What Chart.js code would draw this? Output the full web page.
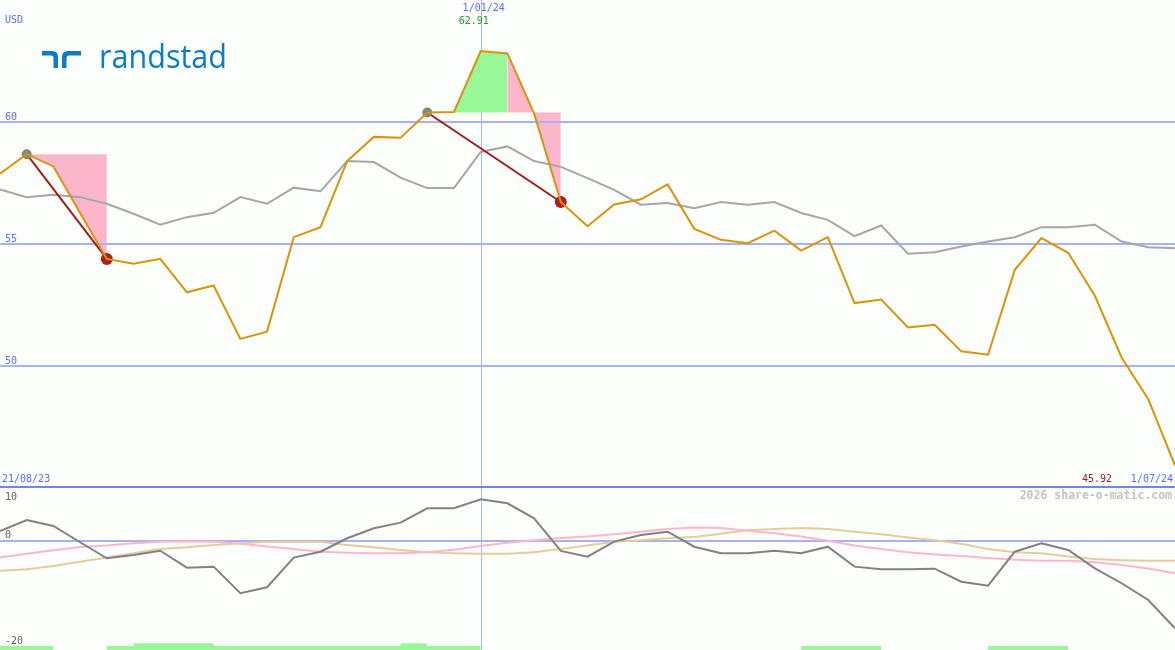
<!DOCTYPE html>
<html><head><meta charset="utf-8">
<script src="https://cdn.jsdelivr.net/npm/chart.js@4/dist/chart.umd.min.js"></script>
<style>
html,body{margin:0;padding:0;background:#fcfefc;}
#wrap{position:relative;width:1175px;height:650px;overflow:hidden;background:#fcfefc;}
canvas{position:absolute;left:0;}
#c1{top:0;} #c2{top:488px;}
</style></head><body>
<div id="wrap"><canvas id="c1" width="1175" height="488"></canvas><canvas id="c2" width="1175" height="162"></canvas></div>
<script>
// ---- data ----
const weeks = ['28/08/23','4/09/23','11/09/23','18/09/23','25/09/23','2/10/23','9/10/23','16/10/23','23/10/23','30/10/23',
 '6/11/23','13/11/23','20/11/23','27/11/23','4/12/23','11/12/23','18/12/23','25/12/23','1/01/24','8/01/24',
 '15/01/24','22/01/24','29/01/24','5/02/24','12/02/24','19/02/24','26/02/24','4/03/24','11/03/24','18/03/24',
 '25/03/24','1/04/24','8/04/24','15/04/24','22/04/24','29/04/24','6/05/24','13/05/24','20/05/24','27/05/24',
 '3/06/24','10/06/24','17/06/24','24/06/24','1/07/24'];
const price = [57.88,58.68,58.18,56.27,54.39,54.19,54.39,53.02,53.30,51.11,
 51.41,55.28,55.69,58.40,59.39,59.35,60.39,60.41,62.91,62.81,
 60.35,56.72,55.73,56.62,56.83,57.44,55.62,55.17,55.03,55.55,
 54.73,55.28,52.58,52.72,51.58,51.69,50.60,50.46,53.94,55.24,
 54.64,52.88,50.35,48.64,45.92];
const average = [57.24,56.92,57.02,56.92,56.65,56.24,55.79,56.10,56.28,56.92,
 56.65,57.31,57.16,58.40,58.36,57.72,57.29,57.29,58.77,59.00,
 58.40,58.16,57.70,57.22,56.61,56.68,56.47,56.72,56.61,56.72,
 56.27,55.99,55.32,55.76,54.60,54.66,54.90,55.10,55.28,55.69,
 55.69,55.79,55.10,54.87,54.83];
const momentum = [1.84,3.93,2.79,-0.3,-3.34,-2.71,-1.90,-5.12,-4.93,-9.98,
 -8.84,-3.22,-2.09,0.46,2.35,3.42,6.15,6.15,7.86,7.10,
 4.25,-1.95,-3.04,-0.18,1.08,1.71,-1.14,-2.39,-2.39,-1.90,
 -2.39,-1.14,-4.93,-5.43,-5.43,-5.31,-7.78,-8.54,-2.09,-0.49,
 -1.76,-5.24,-8.08,-11.25,-16.62];
const oscPink = [-3.2,-2.5,-1.8,-1.2,-0.9,-0.5,-0.2,-0.1,-0.2,-0.6,
 -1.1,-1.6,-2.1,-2.3,-2.4,-2.4,-2.2,-1.7,-1.0,-0.4,
 0.1,0.5,0.8,1.2,1.7,2.2,2.5,2.4,1.9,1.4,
 0.8,0.0,-0.9,-1.6,-2.2,-2.6,-2.9,-3.3,-3.6,-3.8,
 -3.8,-4.1,-4.6,-5.3,-6.2];
const oscTan = [-5.7,-5.4,-4.8,-4.0,-3.2,-2.4,-1.6,-1.25,-0.8,-0.5,
 -0.2,-0.2,-0.2,-0.8,-1.25,-1.75,-2.2,-2.4,-2.5,-2.5,
 -2.2,-1.6,-0.9,-0.2,0.1,0.45,0.7,1.3,2.0,2.2,
 2.4,2.2,1.7,1.2,0.6,0.1,-0.6,-1.6,-2.2,-2.4,
 -3.0,-3.5,-3.7,-3.8,-3.8];
const signalShort = [[0,2],[4,18],[30,33],[37,40]];
const signalTall = [[5,8],[15,16]];
const signalLevels = [-20, -19.45];
const swings = [[1,4],[16,21]];          // trend line start / end indices
const fallZones = [[1,4,1],[19,21,16]];  // from, to, base index
const riseZones = [[16,19,16]];
const priceTicks = [60,55,50];
const oscTicks = [10,0,-20];
const dateLabels = ['21/08/23','1/01/24','1/07/24'];
const markIndex = 18;
const currency = 'USD';

// ---- styling ----
const C = {
  label:'#5b6cf2', grid:'#a6b2f2', vline:'#aab6f0', sep:'#7484ea',
  price:'#d8940a', avg:'#a6a6a6', trend:'#a01c1c', dotGray:'#858585', dotRed:'#a82020',
  pink:'#fbb6cc', green:'#98f898', osc:'#828282', oscPink:'#ffb6cc', oscTan:'#e4cc9c',
  water:'#c4c4c4', valGreen:'#22a022', valRed:'#a01c1c', oscLabel:'#606060', logo:'#0d7cc6'
};
const MONO = "10px 'DejaVu Sans Mono'";

function zone(from,to,val){ const a = weeks.map(()=>null); for(let i=from;i<=to;i++) a[i]=val; return a; }
function ranges(list,val){ const a = weeks.map(()=>null); list.forEach(([s,e])=>{for(let i=s;i<=e;i++) a[i]=val;}); return a; }

const topSets = [
  {data: average, borderColor:C.avg, borderWidth:2, pointRadius:0, fill:false, order:3, gridHere:true},
  {data: price, borderColor:C.price, borderWidth:2, pointRadius:0, fill:false, order:1}
];
swings.forEach(([s,e])=>{
  const d = weeks.map(()=>null); d[s]=price[s]; d[e]=price[e];
  topSets.push({data:d, borderColor:C.trend, borderWidth:2, spanGaps:true, fill:false, order:2,
    pointRadius: weeks.map((_,i)=> i===s?5:(i===e?6:0)),
    pointBackgroundColor: weeks.map((_,i)=> i===s?C.dotGray:C.dotRed),
    pointBorderWidth:0});
});
fallZones.forEach(([f,t,b])=>topSets.push({data:zone(f,t,price[b]), borderColor:'transparent', borderWidth:0, pointRadius:0,
  fill:{target:1}, backgroundColor:C.pink, order:5}));
riseZones.forEach(([f,t,b])=>topSets.push({data:zone(f,t,price[b]), borderColor:'transparent', borderWidth:0, pointRadius:0,
  fill:{target:1}, backgroundColor:C.green, order:5}));

function txt(ctx, s, x, y, color, align, font){
  ctx.font = font || MONO; ctx.fillStyle = color; ctx.textAlign = align || 'left'; ctx.textBaseline = 'middle';
  ctx.fillText(s, x, y);
}

const topDeco = {
  id:'topDeco',
  beforeDatasetsDraw(chart){
    const {ctx, scales:{x}} = chart;
    ctx.save(); ctx.fillStyle = C.vline;
    ctx.fillRect(Math.round(x.getPixelForValue(markIndex)), 0, 1, chart.height);
    ctx.restore();
  },
  beforeDatasetDraw(chart, args){
    if(!chart.data.datasets[args.index].gridHere) return;
    const {ctx, scales:{y}} = chart;
    ctx.save(); ctx.fillStyle = C.grid;
    priceTicks.forEach(v=>{ const py = Math.round(y.getPixelForValue(v)); ctx.fillRect(0, py-1, chart.width, 2); });
    ctx.restore();
  },
  afterDraw(chart){
    const {ctx, scales:{x,y}} = chart;
    ctx.save();
    // separator
    ctx.fillStyle = C.sep;
    ctx.fillRect(0, Math.round(y.getPixelForValue(45))-2, chart.width, 2);
    txt(ctx, currency, 5, 20, C.label);
    priceTicks.forEach(v=> txt(ctx, String(v), 5, y.getPixelForValue(v)-5, C.label));
    const vx = x.getPixelForValue(markIndex);
    txt(ctx, dateLabels[1], vx+3, 8, C.label, 'center');
    const maxV = Math.max(...price);
    txt(ctx, maxV.toFixed(2), vx-7, 21, C.valGreen, 'center');
    const by = y.getPixelForValue(45) - 9;
    txt(ctx, dateLabels[0], 2, by, C.label);
    txt(ctx, dateLabels[2], 1173, by, C.label, 'right');
    txt(ctx, price[price.length-1].toFixed(2), 1112, by, C.valRed, 'right');
    // logo
    ctx.fillStyle = C.logo;
    ctx.beginPath();
    ctx.moveTo(42,51); ctx.lineTo(52,51); ctx.quadraticCurveTo(58,51,58,57); ctx.lineTo(58,68); ctx.lineTo(53.5,68);
    ctx.lineTo(53.5,58); ctx.quadraticCurveTo(53.5,55.5,51,55.5); ctx.lineTo(42,55.5); ctx.closePath(); ctx.fill();
    ctx.beginPath();
    ctx.moveTo(81,51); ctx.lineTo(68,51); ctx.quadraticCurveTo(62,51,62,57); ctx.lineTo(62,68); ctx.lineTo(66.5,68);
    ctx.lineTo(66.5,58); ctx.quadraticCurveTo(66.5,55.5,69,55.5); ctx.lineTo(81,55.5); ctx.closePath(); ctx.fill();
    ctx.font = "33px 'Open Sans'"; ctx.textAlign='left'; ctx.textBaseline='alphabetic';
    const w = ctx.measureText('randstad').width;
    ctx.translate(99, 68); ctx.scale(128/w, 1);
    ctx.fillText('randstad', 0, 0);
    ctx.restore();
  }
};

new Chart(document.getElementById('c1'), {
  type:'line',
  data:{labels:weeks, datasets:topSets},
  options:{
    responsive:false, animation:false, devicePixelRatio:1, events:[],
    layout:{padding:0},
    plugins:{legend:{display:false}, tooltip:{enabled:false}},
    elements:{line:{tension:0}},
    scales:{x:{type:'category', display:false, offset:false}, y:{type:'linear', display:false, min:45, max:65}}
  },
  plugins:[topDeco]
});

const botDeco = {
  id:'botDeco',
  beforeDatasetsDraw(chart){
    const {ctx, scales:{x,y}} = chart;
    ctx.save();
    ctx.fillStyle = C.vline;
    ctx.fillRect(Math.round(x.getPixelForValue(markIndex)), 0, 1, chart.height);
    ctx.fillStyle = C.grid;
    ctx.fillRect(0, Math.round(y.getPixelForValue(0))-1, chart.width, 2);
    ctx.restore();
  },
  afterDraw(chart){
    const {ctx, scales:{y}} = chart;
    ctx.save();
    oscTicks.forEach(v=> txt(ctx, String(v), 5, Math.max(9, y.getPixelForValue(v)-5), C.oscLabel));
    txt(ctx, '2026 share-o-matic.com', 1172, 8, C.water, 'right', "bold 11.5px 'DejaVu Sans Mono'");
    ctx.restore();
  }
};

new Chart(document.getElementById('c2'), {
  type:'line',
  data:{labels:weeks, datasets:[
    {data:momentum, borderColor:C.osc, borderWidth:2, pointRadius:0, fill:false, order:0},
    {data:oscPink, borderColor:C.oscPink, borderWidth:2, pointRadius:0, fill:false, order:1},
    {data:oscTan, borderColor:C.oscTan, borderWidth:2, pointRadius:0, fill:false, order:2},
    {data:ranges(signalShort, signalLevels[0]), borderColor:'transparent', borderWidth:0, pointRadius:0, fill:'start', backgroundColor:C.green, order:5},
    {data:ranges(signalTall, signalLevels[1]), borderColor:'transparent', borderWidth:0, pointRadius:0, fill:'start', backgroundColor:C.green, order:5}
  ]},
  options:{
    responsive:false, animation:false, devicePixelRatio:1, events:[],
    layout:{padding:0},
    plugins:{legend:{display:false}, tooltip:{enabled:false}},
    elements:{line:{tension:0}},
    scales:{x:{type:'category', display:false, offset:false}, y:{type:'linear', display:false, min:-20.75, max:10}}
  },
  plugins:[botDeco]
});
</script>
</body></html>
